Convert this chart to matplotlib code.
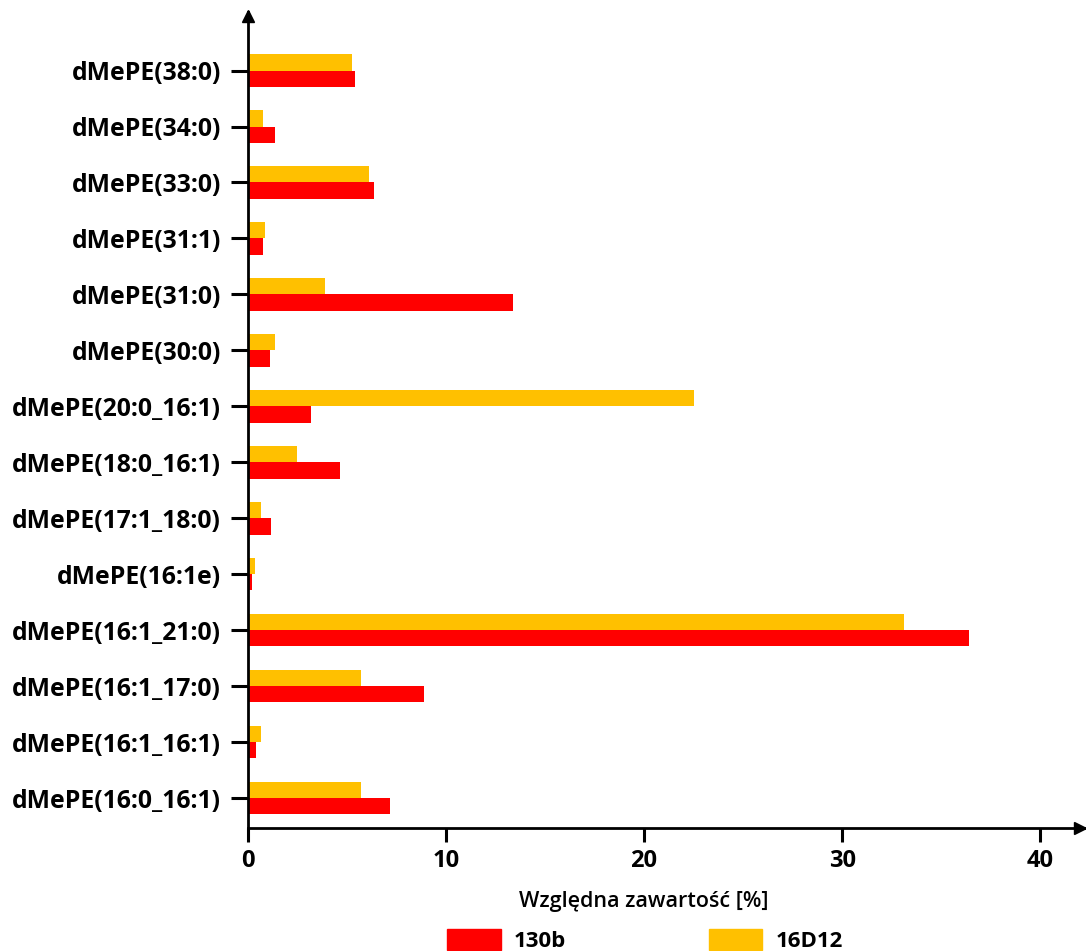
import numpy as np
import matplotlib.pyplot as plt
from matplotlib.patches import Patch

# ---------- data (bottom to top) ----------
labels = ['dMePE(16:0_16:1)', 'dMePE(16:1_16:1)', 'dMePE(16:1_17:0)', 'dMePE(16:1_21:0)',
          'dMePE(16:1e)', 'dMePE(17:1_18:0)', 'dMePE(18:0_16:1)', 'dMePE(20:0_16:1)',
          'dMePE(30:0)', 'dMePE(31:0)', 'dMePE(31:1)', 'dMePE(33:0)',
          'dMePE(34:0)', 'dMePE(38:0)']
val_130b = [7.2, 0.4, 8.9, 36.4, 0.2, 1.2, 4.65, 3.2, 1.15, 13.4, 0.8, 6.4, 1.4, 5.4]
val_16d12 = [5.7, 0.7, 5.7, 33.1, 0.35, 0.7, 2.5, 22.5, 1.4, 3.9, 0.9, 6.1, 0.76, 5.25]
xticks = [0, 10, 20, 30, 40]

RED = '#ff0000'
YELLOW = '#ffc000'
FONT = 'Open Sans'

fig = plt.figure(figsize=(10.86, 9.51), dpi=100)
ax = fig.add_axes([0.228, 0.129, 0.772, 0.858])

y = np.arange(len(labels))
h = 0.29
ax.barh(y - h / 2, val_130b, height=h, color=RED, label='130b')
ax.barh(y + h / 2, val_16d12, height=h, color=YELLOW, label='16D12')

ax.set_xlim(0, 42.3)
ax.set_ylim(-0.54, len(labels) - 1 + 1.04)

ax.set_yticks(y)
ax.set_yticklabels(labels, fontsize=17.8, fontweight='bold', family=FONT)
ax.set_xticks(xticks)
ax.set_xticklabels([str(v) for v in xticks], fontsize=17, fontweight='bold', family=FONT)
ax.tick_params(axis='y', length=12, width=2.2, pad=7)
ax.tick_params(axis='x', length=10, width=2.2, pad=5)

for side in ['top', 'right']:
    ax.spines[side].set_visible(False)
for side in ['left', 'bottom']:
    ax.spines[side].set_linewidth(2.0)

# arrow heads on the axes
ax.plot(0.993, 0, '>k', markersize=8, transform=ax.transAxes, clip_on=False)
ax.plot(0, 0.995, '^k', markersize=8, transform=ax.transAxes, clip_on=False)

ax.set_xlabel('Względna zawartość [%]', fontsize=15.5, fontweight='semibold', family=FONT)
ax.xaxis.set_label_coords(20 / 42.3, -0.077)

handles = [Patch(color=RED), Patch(color=YELLOW)]
fig.legend(handles, ['130b', '16D12'], loc='lower center', bbox_to_anchor=(0.594, -0.022),
           ncol=2, frameon=False, handlelength=2.4, handleheight=1.1,
           columnspacing=6.4, handletextpad=0.6,
           prop={'family': FONT, 'weight': 'bold', 'size': 16})

fig.savefig('out.png', dpi=100)
